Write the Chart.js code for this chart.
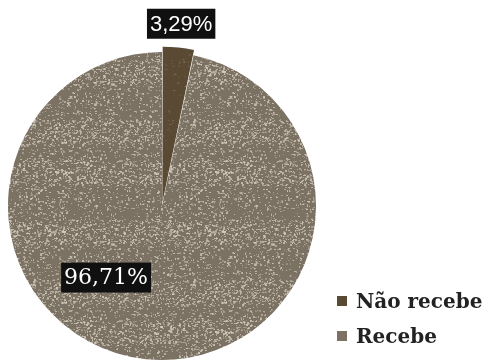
<!DOCTYPE html>
<html>
<head>
<meta charset="utf-8">
<script src="https://cdn.jsdelivr.net/npm/chart.js@4.4.1/dist/chart.umd.min.js"></script>
<style>
  html, body { margin: 0; padding: 0; background: #fff; overflow: hidden; }
  #wrap { position: absolute; left: 0; top: 0; width: 491px; height: 372px; }
  #legend { position: absolute; left: 337px; top: 283px; font-family: "DejaVu Serif", serif; font-weight: bold; font-size: 20px; color: #222; }
  #legend .item { display: flex; align-items: center; height: 35px; }
  #legend .box { width: 10px; height: 10px; margin-right: 9px; }
</style>
</head>
<body>
<div id="wrap"><canvas id="chart"></canvas></div>
<div id="legend"></div>
<script>
//chart data
const categories = ['Não recebe', 'Recebe'];
const shares = [3.29, 96.71];
const valueLabels = ['3,29%', '96,71%'];
//base colours of the two slices
const baseColors = ['#5b4a33', '#7b7264'];

//makes a speckled texture so the slices look like the scanned original
function makeTexture(base, speck, amount) {
    const c = document.createElement('canvas');
    c.width = 160; c.height = 160;
    const g = c.getContext('2d');
    g.fillStyle = base;
    g.fillRect(0, 0, 160, 160);
    let seed = 7;
    const next = () => { seed = (seed * 16807) % 2147483647; return seed / 2147483647; };
    g.fillStyle = speck;
    for (let i = 0; i < amount; i++) {
        const x = Math.floor(next() * 160);
        const y = Math.floor(next() * 160);
        // more speckles in horizontal bands
        const band = (y % 60) < 25 ? 1 : 0.45;
        if (next() < band) {
            g.globalAlpha = 0.25 + next() * 0.5;
            g.fillRect(x, y, 1 + Math.floor(next() * 2), 1 + Math.floor(next() * 1.4));
        }
    }
    g.globalAlpha = 1;
    return g.createPattern(c, 'repeat');
}

//percentage labels in black boxes
const labelBoxes = {
    id: 'labelBoxes',
    afterDatasetsDraw(chart) {
        const ctx = chart.ctx;
        const arcs = chart.getDatasetMeta(0).data;
        // where each label sits: angle (deg, clockwise from 3 o'clock) and distance as share of radius
        const place = [
            { angle: -84, dist: 1.19, font: 'normal 22px "Liberation Sans", sans-serif' },
            { angle: 128, dist: 0.59, font: 'normal 22px "DejaVu Serif", serif' }
        ];
        arcs.forEach((arc, i) => {
            const p = place[i];
            const a = p.angle * Math.PI / 180;
            const x = arc.x + Math.cos(a) * arc.outerRadius * p.dist;
            const y = arc.y + Math.sin(a) * arc.outerRadius * p.dist;
            ctx.save();
            ctx.font = p.font;
            const w = ctx.measureText(valueLabels[i]).width + 6;
            ctx.fillStyle = '#101010';
            ctx.fillRect(x - w / 2, y - 15, w, 30);
            ctx.fillStyle = '#ffffff';
            ctx.textAlign = 'center';
            ctx.textBaseline = 'middle';
            ctx.fillText(valueLabels[i], x, y + 1);
            ctx.restore();
        });
    }
};

function drawChart() {
    const fills = [
        makeTexture(baseColors[0], '#8a7a60', 600),
        makeTexture(baseColors[1], '#d8d0c2', 5500)
    ];
    new Chart(document.getElementById('chart'), {
        type: 'pie',
        data: {
            labels: categories,
            datasets: [{
                data: shares,
                backgroundColor: fills,
                borderWidth: 0,
                offset: [12, 0]
            }]
        },
        options: {
            responsive: true,
            maintainAspectRatio: false,
            animation: false,
            layout: { padding: { left: 2, right: 169, top: 46, bottom: 6 } },
            plugins: {
                legend: { display: false },
                tooltip: { enabled: false }
            }
        },
        plugins: [labelBoxes]
    });
}

//legend built from the same arrays
const legend = document.getElementById('legend');
categories.forEach((name, i) => {
    const item = document.createElement('div');
    item.className = 'item';
    item.innerHTML = `<span class="box" style="background:${baseColors[i]}"></span>${name}`;
    legend.appendChild(item);
});

//wait for the canvas fonts before drawing
Promise.all([
    document.fonts.load('22px "DejaVu Serif"'),
    document.fonts.load('22px "Liberation Sans"')
]).then(drawChart, drawChart);
</script>
</body>
</html>
